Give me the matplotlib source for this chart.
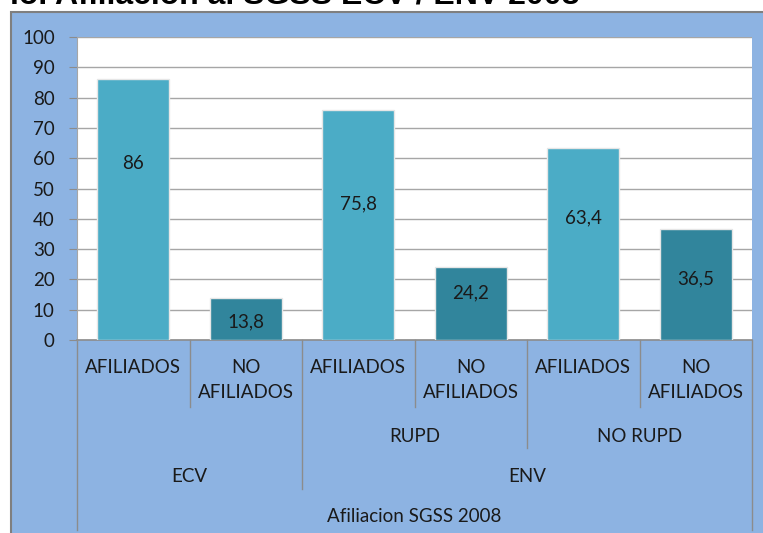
import matplotlib.pyplot as plt
import matplotlib.patches as mpatches
import matplotlib.transforms as mtransforms

# Data
leaf_labels = ['AFILIADOS', 'NO\nAFILIADOS', 'AFILIADOS', 'NO\nAFILIADOS', 'AFILIADOS', 'NO\nAFILIADOS']
values = [86, 13.8, 75.8, 24.2, 63.4, 36.5]
sub_groups = [('RUPD', 2, 3), ('NO RUPD', 4, 5)]
survey_groups = [('ECV', 0, 1), ('ENV', 2, 5)]
top_label = 'Afiliacion SGSS 2008'
title = 'ió. Afiliación al SGSS ECV / ENV 2008'
y_ticks = list(range(0, 101, 10))

# label heights as drawn in the original (data units)
label_pos = [58.4, 5.9, 44.9, 15.5, 40.3, 20.1]

LIGHT = '#4BACC6'
DARK = '#31859C'
BG = '#8DB3E2'
FONT = 'Lato'
FS = 13.5

W, H = 763, 533
fig = plt.figure(figsize=(W / 100, H / 100), dpi=100)
fig.patch.set_facecolor('white')

# chart area background with grey frame
frame = mpatches.Rectangle((11 / W, -0.01), 1.0, 1 - 12 / H + 0.01, transform=fig.transFigure,
                           facecolor=BG, edgecolor='#7F7F7F', linewidth=1.5, zorder=0)
fig.patches.append(frame)

fig.text(10 / W, 1 - 4 / H, title, fontsize=23, fontweight='bold', family='Liberation Sans',
         va='baseline', ha='left')

ax = fig.add_axes([77 / W, 193 / H, 675 / W, 303 / H])
ax.set_zorder(2)
ax.set_facecolor('white')

colors = [LIGHT if i % 2 == 0 else DARK for i in range(len(values))]
x = list(range(len(values)))
ax.bar(x, values, width=0.64, color=colors, edgecolor='#E6E6E6', linewidth=1.0, zorder=3)

for i, v in enumerate(values):
    txt = ('%g' % v).replace('.', ',')
    ax.text(i, label_pos[i], txt, ha='center', va='center', fontsize=FS, family=FONT,
            color='#1a1a1a', zorder=4)

ax.set_xlim(-0.5, 5.5)
ax.set_ylim(0, 100)
ax.set_yticks(y_ticks)
ax.set_yticklabels([str(t) for t in y_ticks], fontsize=FS, family=FONT, color='#1a1a1a')
ax.tick_params(axis='y', length=6, color='#8C8C8C', pad=10)
ax.set_xticks([])
ax.grid(axis='y', color='#A6A6A6', linewidth=1.0, zorder=0)
ax.set_axisbelow(True)
for s in ['top', 'right']:
    ax.spines[s].set_visible(False)
ax.spines['left'].set_color('#A6A6A6')
ax.spines['bottom'].set_color('#8C8C8C')
ax.spines['bottom'].set_linewidth(1.2)

# multi-level category axis
trans = mtransforms.blended_transform_factory(ax.transData, ax.transAxes)
axh = 303.0


def fy(px):
    return -px / axh


def vline(xpos, depth):
    ax.plot([xpos, xpos], [0, fy(depth)], transform=trans, color='#8C8C8C', linewidth=1.0,
            clip_on=False)


for i, lab in enumerate(leaf_labels):
    ax.text(i, fy(19), lab, transform=trans, ha='center', va='top', fontsize=FS,
            family=FONT, color='#1a1a1a', linespacing=1.55)

# separators between leaf categories
for b in [0.5, 2.5, 4.5]:
    vline(b, 67)
vline(3.5, 108)
vline(1.5, 149)
vline(-0.5, 190)
vline(5.5, 190)

for name, a, b in sub_groups:
    ax.text((a + b) / 2, fy(96), name, transform=trans, ha='center', va='center',
            fontsize=FS, family=FONT, color='#1a1a1a')
for name, a, b in survey_groups:
    ax.text((a + b) / 2, fy(136), name, transform=trans, ha='center', va='center',
            fontsize=FS, family=FONT, color='#1a1a1a')
ax.text(2.5, fy(176), top_label, transform=trans, ha='center', va='center',
        fontsize=FS, family=FONT, color='#1a1a1a')

fig.savefig('out.png', dpi=100, facecolor=fig.get_facecolor())
